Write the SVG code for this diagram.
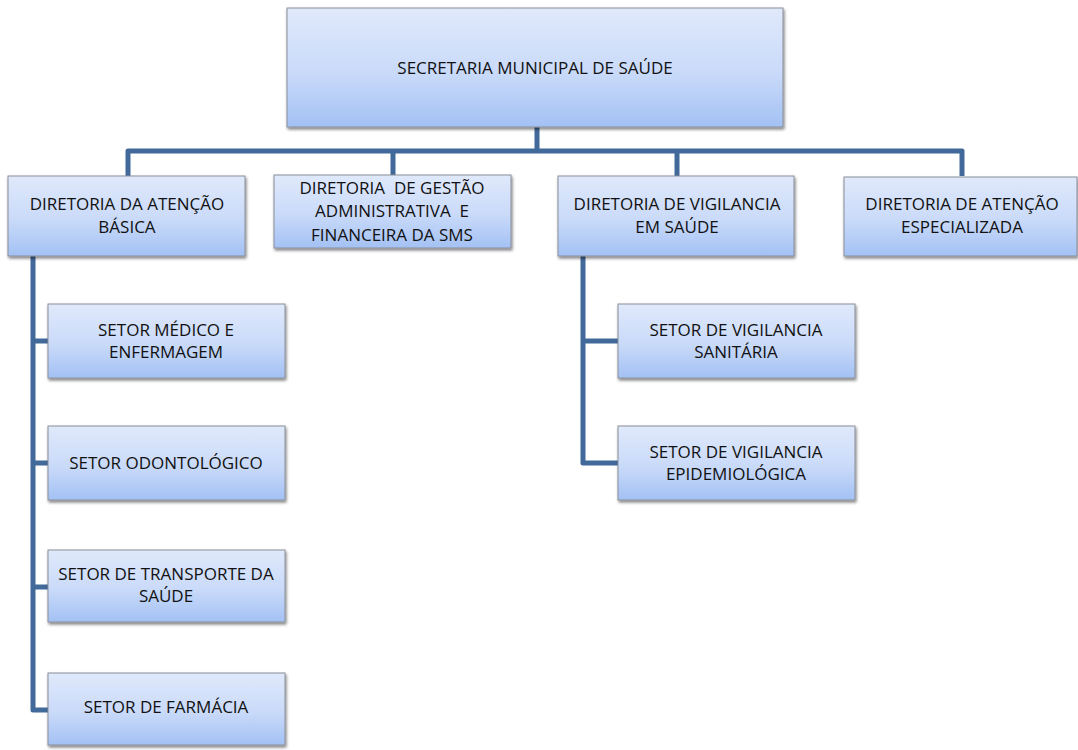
<svg xmlns="http://www.w3.org/2000/svg" width="1078" height="750" viewBox="0 0 1078 750">
<style>
.box{fill:url(#g);stroke:#8a8f99;stroke-width:1;filter:url(#sh)}
.t{font-family:"Open Sans","Noto Sans",sans-serif;font-size:17px;fill:#111;text-anchor:middle}
.c{fill:none;stroke:#41699a;stroke-width:5;stroke-linejoin:round}
</style>
<defs>
<linearGradient id="g" x1="0" y1="0" x2="0" y2="1">
<stop offset="0" stop-color="#e0e9fb"/>
<stop offset="0.55" stop-color="#c9daf9"/>
<stop offset="1" stop-color="#a3c1f4"/>
</linearGradient>
<filter id="sh" x="-5%" y="-10%" width="115%" height="130%">
<feGaussianBlur in="SourceAlpha" stdDeviation="1.5"/>
<feOffset dx="1" dy="2" result="b"/>
<feComponentTransfer><feFuncA type="linear" slope="0.5"/></feComponentTransfer>
<feMerge><feMergeNode/><feMergeNode in="SourceGraphic"/></feMerge>
</filter>
</defs>
<rect width="1078" height="750" fill="#fff"/>
<g id="connectors">
<path class="c" d="M537 127 V151 M128 176 V151 H962 V176 M393 151 V175 M677 151 V176"/>
<path class="c" d="M33 256 V710 H48 M33 341 H48 M33 463 H48 M33 587 H48"/>
<path class="c" d="M583 256 V463 H618 M583 341 H618"/>
</g>
<g id="secretaria"><rect class="box" x="287" y="8" width="496" height="119"/><text class="t" x="535" y="74">SECRETARIA MUNICIPAL DE SAÚDE</text></g>
<g id="dir-basica"><rect class="box" x="8" y="176" width="237" height="80"/><text class="t" x="127" y="210">DIRETORIA DA ATENÇÃO</text><text class="t" x="127" y="233">BÁSICA</text></g>
<g id="dir-gestao"><rect class="box" x="274" y="175" width="237" height="73"/><text class="t" x="392" y="194" xml:space="preserve">DIRETORIA  DE GESTÃO</text><text class="t" x="392" y="217" xml:space="preserve">ADMINISTRATIVA  E</text><text class="t" x="392" y="241">FINANCEIRA DA SMS</text></g>
<g id="dir-vigilancia"><rect class="box" x="558" y="176" width="236" height="80"/><text class="t" x="677" y="210">DIRETORIA DE VIGILANCIA</text><text class="t" x="677" y="233">EM SAÚDE</text></g>
<g id="dir-especializada"><rect class="box" x="844" y="177" width="233" height="79"/><text class="t" x="962" y="210">DIRETORIA DE ATENÇÃO</text><text class="t" x="962" y="233">ESPECIALIZADA</text></g>
<g id="setor-medico"><rect class="box" x="48" y="304" width="237" height="74"/><text class="t" x="166" y="336">SETOR MÉDICO E</text><text class="t" x="166" y="358">ENFERMAGEM</text></g>
<g id="setor-odonto"><rect class="box" x="48" y="426" width="237" height="74"/><text class="t" x="166" y="469">SETOR ODONTOLÓGICO</text></g>
<g id="setor-transporte"><rect class="box" x="48" y="550" width="237" height="72"/><text class="t" x="166" y="580">SETOR DE TRANSPORTE DA</text><text class="t" x="166" y="602">SAÚDE</text></g>
<g id="setor-farmacia"><rect class="box" x="48" y="673" width="237" height="72"/><text class="t" x="166" y="713">SETOR DE FARMÁCIA</text></g>
<g id="setor-sanitaria"><rect class="box" x="618" y="304" width="237" height="74"/><text class="t" x="736" y="336">SETOR DE VIGILANCIA</text><text class="t" x="736" y="358">SANITÁRIA</text></g>
<g id="setor-epidemio"><rect class="box" x="618" y="426" width="237" height="74"/><text class="t" x="736" y="458">SETOR DE VIGILANCIA</text><text class="t" x="736" y="480">EPIDEMIOLÓGICA</text></g>
</svg>
